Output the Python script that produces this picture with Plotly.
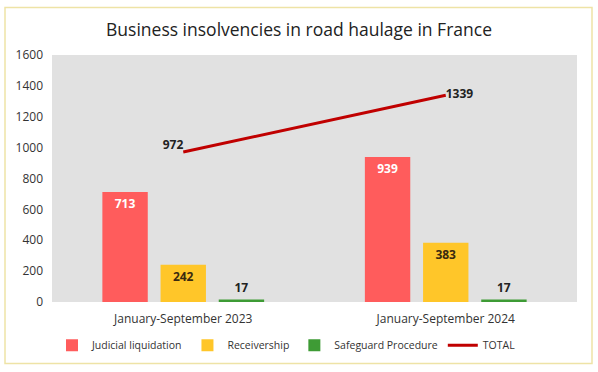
import plotly.graph_objects as go

categories = ["January-September 2023", "January-September 2024"]
judicial = [713, 939]
receivership = [242, 383]
safeguard = [17, 17]
total = [972, 1339]
y_ticks = [0, 200, 400, 600, 800, 1000, 1200, 1400, 1600]

FONT = "Open Sans"

fig = go.Figure()
fig.add_trace(go.Bar(
    x=categories, y=judicial, name="Judicial liquidation",
    marker=dict(color="#FF5C5C", line=dict(width=0)),
    text=[str(v) for v in judicial], textposition="inside", insidetextanchor="end",
    textfont=dict(color="white", size=12, family=FONT, weight="bold"),
    constraintext="none",
))
fig.add_trace(go.Bar(
    x=categories, y=receivership, name="Receivership",
    marker=dict(color="#FFC629", line=dict(width=0)),
    text=[str(v) for v in receivership], textposition="inside", insidetextanchor="end",
    textfont=dict(color="#3A2A10", size=12, family=FONT, weight="bold"),
    constraintext="none",
))
fig.add_trace(go.Bar(
    x=categories, y=safeguard, name="Safeguard Procedure",
    marker=dict(color="#3E9B35", line=dict(width=0)),
    text=[str(v) for v in safeguard], textposition="outside",
    textfont=dict(color="#222222", size=12, family=FONT, weight="bold"),
    constraintext="none", cliponaxis=False,
))
fig.add_trace(go.Scatter(
    x=categories, y=total, name="TOTAL", mode="lines+text",
    line=dict(color="#C00000", width=3),
    text=[str(v) for v in total], textposition=["top left", "middle right"],
    textfont=dict(color="#222222", size=12, family=FONT, weight="bold"),
    cliponaxis=False,
))

fig.update_layout(
    width=598, height=372,
    margin=dict(l=52, r=21, t=55, b=68),
    paper_bgcolor="white", plot_bgcolor="#E1E1E1",
    font=dict(family=FONT, size=12, color="#333333"),
    title=dict(text="Business insolvencies in road haulage in France",
               x=0.5, xanchor="center", y=1 - 30 / 372, yanchor="middle",
               yref="container",
               font=dict(family=FONT, size=17.5, color="#222222")),
    barmode="group", bargap=0.335, bargroupgap=0.22,
    showlegend=True,
    legend=dict(orientation="h", x=0.0, xanchor="left", y=-0.175, yanchor="middle",
                font=dict(family=FONT, size=10.5, color="#333333"),
                bgcolor="rgba(0,0,0,0)", traceorder="normal"),
    xaxis=dict(showgrid=False, showline=False, ticks="", ticklabelstandoff=8,
               tickfont=dict(size=12, color="#333333")),
    yaxis=dict(range=[0, 1600], tickvals=y_ticks, showgrid=False, zeroline=False,
               showline=False, ticks="", ticklabelstandoff=8,
               tickfont=dict(size=12, color="#333333")),
    shapes=[dict(type="rect", xref="paper", yref="paper",
                 x0=(5 - 52) / 525, x1=(592 - 52) / 525,
                 y0=(304 - 366) / 249, y1=(304 - 7) / 249,
                 line=dict(color="#EEE3A6", width=1.5), fillcolor="rgba(0,0,0,0)",
                 layer="below")],
)

fig.write_html("out.html", config={"displayModeBar": False},
               post_script="document.body.style.margin='0';")
